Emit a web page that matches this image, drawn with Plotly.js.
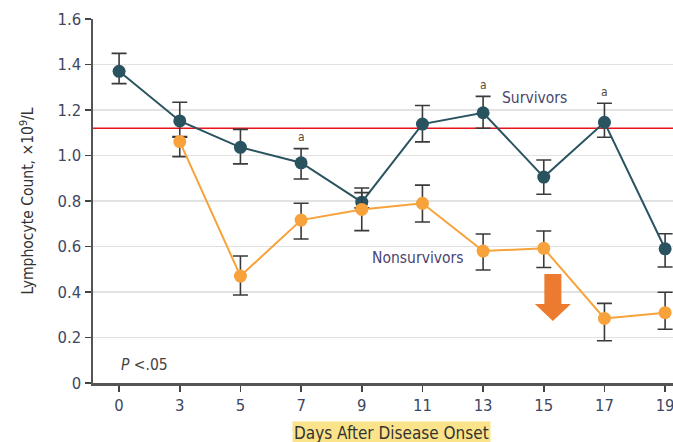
<!DOCTYPE html>
<html>
<head>
<meta charset="utf-8">
<script src="https://cdn.plot.ly/plotly-3.0.1.min.js"></script>
<style>html,body{margin:0;padding:0;background:#fff}#chart{width:673px;height:442px}</style>
</head>
<body>
<div id="chart"></div>
<script>
var days = ['0','3','5','7','9','11','13','15','17','19'];
var survivors      = [1.37, 1.152, 1.036, 0.968, 0.795, 1.138, 1.188, 0.905, 1.146, 0.59];
var survivorsUpper = [1.449, 1.234, 1.115, 1.03, 0.857, 1.22, 1.26, 0.98, 1.23, 0.656];
var survivorsLower = [1.316, 1.08, 0.963, 0.897, 0.77, 1.06, 1.12, 0.83, 1.08, 0.51];
var nonsurvivors      = [null, 1.061, 0.47, 0.716, 0.763, 0.79, 0.58, 0.592, 0.284, 0.309];
var nonsurvivorsUpper = [null, 1.083, 0.558, 0.79, 0.837, 0.87, 0.655, 0.668, 0.35, 0.399];
var nonsurvivorsLower = [null, 0.995, 0.387, 0.633, 0.67, 0.708, 0.497, 0.508, 0.186, 0.236];
var referenceLine = 1.12;
var yTicks = [0, 0.2, 0.4, 0.6, 0.8, 1.0, 1.2, 1.4, 1.6];
var yTickText = ['0', '0.2', '0.4', '0.6', '0.8', '1.0', '1.2', '1.4', '1.6'];

function diff(a, b) {
  return a.map(function (v, i) { return (v == null || b[i] == null) ? null : (v - b[i]); });
}

var FONT = "'Liberation Sans Narrow', 'DejaVu Sans Condensed', 'Arial Narrow', sans-serif";

var traceS = {
  x: days, y: survivors, type: 'scatter', mode: 'lines+markers', name: 'Survivors',
  line: {color: '#2a5360', width: 2},
  marker: {color: '#2a5360', size: 13},
  error_y: {type: 'data', symmetric: false, array: diff(survivorsUpper, survivors),
            arrayminus: diff(survivors, survivorsLower), color: '#3a3a3a', thickness: 1.6, width: 7.5},
  cliponaxis: false
};
var traceN = {
  x: days, y: nonsurvivors, type: 'scatter', mode: 'lines+markers', name: 'Nonsurvivors',
  line: {color: '#F7A23A', width: 2},
  marker: {color: '#F7A23A', size: 13},
  error_y: {type: 'data', symmetric: false, array: diff(nonsurvivorsUpper, nonsurvivors),
            arrayminus: diff(nonsurvivors, nonsurvivorsLower), color: '#3a3a3a', thickness: 1.6, width: 7.5},
  connectgaps: false,
  cliponaxis: false
};

var layout = {
  width: 673, height: 442,
  margin: {l: 93, r: 0, t: 19, b: 59},
  paper_bgcolor: '#fff', plot_bgcolor: '#fff',
  showlegend: false,
  font: {family: FONT, color: '#3d4763', size: 16},
  xaxis: {
    type: 'category', range: [-0.43, 9.13],
    showgrid: false, zeroline: false,
    showline: true, linecolor: '#555', linewidth: 2.5,
    ticks: 'outside', ticklen: 6, tickwidth: 1.6, tickcolor: '#444',
    tickfont: {family: FONT, size: 16.5, color: '#3d4763'},
    fixedrange: true
  },
  yaxis: {
    range: [0, 1.6],
    tickvals: yTicks, ticktext: yTickText,
    showgrid: true, gridcolor: '#e2e2e2', gridwidth: 1.6,
    zeroline: false,
    showline: true, linecolor: '#555', linewidth: 2.5,
    ticks: 'outside', ticklen: 6, tickwidth: 1.6, tickcolor: '#444',
    tickfont: {family: FONT, size: 16.5, color: '#3d4763'},
    title: {text: 'Lymphocyte Count, ×10<sup>9</sup>/L', font: {family: FONT, size: 15.5, color: '#333'}, standoff: 20},
    fixedrange: true
  },
  shapes: [
    {type: 'line', xref: 'paper', x0: 0, x1: 1, yref: 'y', y0: referenceLine, y1: referenceLine,
     line: {color: '#e8141c', width: 1.5}, layer: 'below'},
    {type: 'path', xref: 'x', yref: 'y', xsizemode: 'pixel', ysizemode: 'pixel',
     xanchor: 7.15, yanchor: 0.272,
     path: 'M -8.5,47 L 8.5,47 L 8.5,17 L 18,17 L 0,0 L -18,17 L -8.5,17 Z',
     fillcolor: '#EC7B2F', line: {width: 0}}
  ],
  annotations: [
    {xref: 'paper', yref: 'paper', x: 0.514, y: -0.137, text: 'Days After Disease Onset',
     showarrow: false, bgcolor: '#FBE38A', borderpad: 1, xanchor: 'center', yanchor: 'middle',
     font: {family: FONT, size: 17, color: '#333'}},
    {xref: 'x', yref: 'y', x: 3, y: 1.08, text: 'a', showarrow: false, font: {family: FONT, size: 12, color: '#5a4a3a'}},
    {xref: 'x', yref: 'y', x: 6, y: 1.31, text: 'a', showarrow: false, font: {family: FONT, size: 12, color: '#5a4a3a'}},
    {xref: 'x', yref: 'y', x: 8, y: 1.28, text: 'a', showarrow: false, font: {family: FONT, size: 12, color: '#5a4a3a'}},
    {xref: 'x', yref: 'y', x: 6.28, y: 1.252, xanchor: 'left', text: 'Survivors', showarrow: false,
     font: {family: FONT, size: 15.5, color: '#4a4570'}},
    {xref: 'x', yref: 'y', x: 4.13, y: 0.548, xanchor: 'left', text: 'Nonsurvivors', showarrow: false,
     font: {family: FONT, size: 15.5, color: '#4a4570'}},
    {xref: 'x', yref: 'y', x: 0.0, y: 0.078, xanchor: 'left', text: '<i>P</i> <.05', showarrow: false,
     font: {family: FONT, size: 15.5, color: '#444'}}
  ]
};

Plotly.newPlot('chart', [traceS, traceN], layout, {staticPlot: true, displayModeBar: false});
</script>
</body>
</html>
